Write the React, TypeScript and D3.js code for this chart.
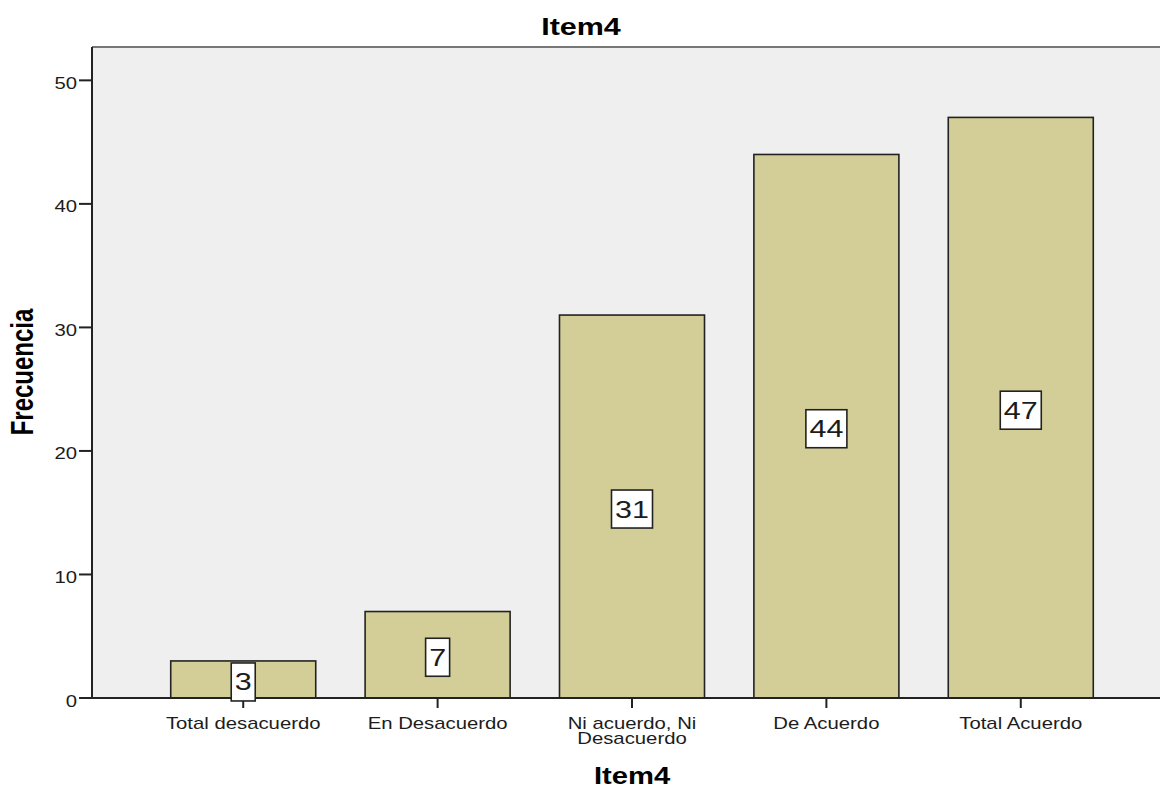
import React from "react";
import * as d3 from "d3";

const categories = [
  ["Total desacuerdo"],
  ["En Desacuerdo"],
  ["Ni acuerdo, Ni", "Desacuerdo"],
  ["De Acuerdo"],
  ["Total Acuerdo"],
];
const frequencies = [3, 7, 31, 44, 47];
const yTicks = [0, 10, 20, 30, 40, 50];
const chartTitle = "Item4";
const xTitle = "Item4";
const yTitle = "Frecuencia";

const W = 1160;
const H = 788;
const plot = { left: 92, top: 47, right: 1172, bottom: 698 };
const SX = 1.27; // horizontal text stretch
const FONT = "'Liberation Sans', Arial, sans-serif";
const INK = "#1c1c1c";

export default function App() {
  const keys = categories.map((c) => c.join(" "));
  const x = d3
    .scaleBand<string>()
    .domain(keys)
    .range([plot.left, plot.right])
    .paddingInner(0.254)
    .paddingOuter(0.405);
  const y = d3.scaleLinear().domain([0, 52.7]).range([plot.bottom, plot.top]);

  const stretched = (tx: number, ty: number, extra = "") =>
    `translate(${tx},${ty}) scale(${SX},1)${extra}`;

  return (
    <svg
      width={W}
      height={H}
      style={{ position: "absolute", left: 0, top: 0, background: "#fff" }}
      fontFamily={FONT}
    >
      {/* plot background */}
      <rect
        x={plot.left}
        y={plot.top}
        width={plot.right - plot.left}
        height={plot.bottom - plot.top}
        fill="#efefef"
      />
      <line x1={plot.left} x2={W} y1={plot.top} y2={plot.top} stroke="#777" strokeWidth={2} />

      {/* bars */}
      {frequencies.map((v, i) => (
        <rect
          key={keys[i]}
          x={x(keys[i])!}
          y={y(v)}
          width={x.bandwidth()}
          height={y(0) - y(v)}
          fill="#d3ce97"
          stroke="#222"
          strokeWidth={1.6}
        />
      ))}

      {/* axes */}
      <line x1={plot.left} x2={plot.left} y1={plot.top} y2={plot.bottom} stroke="#222" strokeWidth={2} />
      <line x1={plot.left} x2={W} y1={plot.bottom} y2={plot.bottom} stroke="#222" strokeWidth={1.8} />

      {yTicks.map((t) => (
        <g key={t}>
          <line x1={plot.left - 13} x2={plot.left} y1={y(t)} y2={y(t)} stroke="#222" strokeWidth={2} />
          <text
            transform={stretched(plot.left - 15, y(t) + 8.5)}
            textAnchor="end"
            fontSize={16}
            fill={INK}
          >
            {t}
          </text>
        </g>
      ))}

      {categories.map((lines, i) => {
        const cx = x(keys[i])! + x.bandwidth() / 2;
        return (
          <g key={keys[i]}>
            <line x1={cx} x2={cx} y1={plot.bottom} y2={plot.bottom + 10} stroke="#222" strokeWidth={2} />
            {lines.map((ln, j) => (
              <text
                key={j}
                transform={stretched(cx, 729 + j * 15)}
                textAnchor="middle"
                fontSize={16}
                fill={INK}
              >
                {ln}
              </text>
            ))}
          </g>
        );
      })}

      {/* value labels */}
      {frequencies.map((v, i) => {
        const cx = x(keys[i])! + x.bandwidth() / 2;
        const cy = y(v / 2) + 2.5;
        const digits = String(v).length;
        const bw = digits * 17 + 7;
        const bh = 38;
        return (
          <g key={`lab-${keys[i]}`}>
            <rect
              x={cx - bw / 2}
              y={cy - bh / 2}
              width={bw}
              height={bh}
              fill="#fff"
              stroke="#222"
              strokeWidth={1.6}
            />
            <text
              transform={stretched(cx, cy + 8.5)}
              textAnchor="middle"
              fontSize={24}
              fill={INK}
            >
              {v}
            </text>
          </g>
        );
      })}

      {/* titles */}
      <text
        transform={stretched(581, 35)}
        textAnchor="middle"
        fontSize={24}
        fontWeight="bold"
        fill="#000"
      >
        {chartTitle}
      </text>
      <text
        transform={stretched(632, 784)}
        textAnchor="middle"
        fontSize={23}
        fontWeight="bold"
        fill="#000"
      >
        {xTitle}
      </text>
      <text
        transform={stretched(33, 372, " rotate(-90)")}
        textAnchor="middle"
        fontSize={24}
        fontWeight="bold"
        fill="#000"
      >
        {yTitle}
      </text>
    </svg>
  );
}
